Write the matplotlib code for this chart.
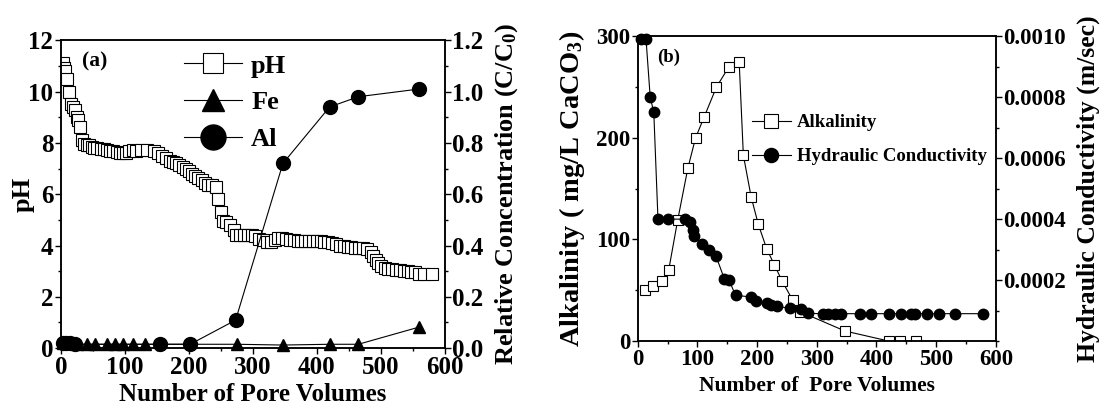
import matplotlib
matplotlib.use("Agg")
import matplotlib.pyplot as plt
from matplotlib.ticker import MultipleLocator

plt.rcParams['font.family'] = 'Liberation Serif'
plt.rcParams['font.weight'] = 'bold'
plt.rcParams['axes.labelweight'] = 'bold'
plt.rcParams['mathtext.fontset'] = 'custom'
plt.rcParams['mathtext.rm'] = 'Liberation Serif:bold'
plt.rcParams['mathtext.it'] = 'Liberation Serif:bold'
plt.rcParams['mathtext.bf'] = 'Liberation Serif:bold'

# ---- panel (a) data ----
ph_x = [3, 5, 7, 9, 13, 16, 19, 22, 25, 27, 30, 33, 36, 40, 44, 48, 52, 57, 62, 67,
        72, 77, 82, 87, 92, 97, 102, 107, 112, 117, 125, 135, 145, 152, 158, 164, 170,
        175, 180, 185, 190, 195, 200, 205, 210, 215, 220, 225, 230, 236, 242, 246, 250,
        254, 258, 264, 270, 274, 280, 286, 292, 298, 304, 310, 316, 322, 328, 334, 340,
        346, 352, 358, 364, 370, 376, 382, 388, 394, 400, 406, 412, 418, 424, 430, 436,
        442, 448, 454, 460, 466, 472, 478, 484, 488, 492, 496, 500, 506, 512, 518, 524,
        530, 536, 542, 548, 554, 560, 568, 580]
ph_y = [11.1, 10.9, 10.8, 10.5, 10.0, 9.5, 9.4, 9.3, 9.0, 8.9, 8.6, 8.1, 7.95, 7.9, 7.9,
        7.85, 7.8, 7.8, 7.78, 7.75, 7.72, 7.7, 7.68, 7.65, 7.62, 7.6, 7.62, 7.68, 7.72,
        7.7, 7.72, 7.72, 7.68, 7.6, 7.5, 7.4, 7.3, 7.25, 7.2, 7.12, 7.05, 7.0, 6.9, 6.8,
        6.72, 6.62, 6.55, 6.45, 6.35, 6.35, 6.3, 5.8, 5.3, 4.95, 4.9, 4.8, 4.6, 4.4, 4.4,
        4.4, 4.4, 4.4, 4.38, 4.25, 4.2, 4.15, 4.15, 4.2, 4.3, 4.3, 4.25, 4.22, 4.2, 4.18,
        4.18, 4.18, 4.18, 4.18, 4.18, 4.18, 4.15, 4.12, 4.1, 4.05, 4.0, 4.0, 3.95, 3.95,
        3.92, 3.9, 3.9, 3.85, 3.75, 3.6, 3.45, 3.3, 3.2, 3.12, 3.1, 3.08, 3.05, 3.05, 3.0,
        3.0, 2.98, 2.95, 2.9, 2.88, 2.88]

fe_x = [3, 8, 25, 41, 53, 72, 84, 97, 112, 131, 275, 347, 420, 465, 560]
fe_y = [0.02, 0.018, 0.015, 0.015, 0.015, 0.015, 0.015, 0.015, 0.015, 0.015, 0.015,
        0.012, 0.015, 0.015, 0.082]

al_x = [3, 8, 14, 22, 155, 202, 273, 347, 420, 465, 560]
al_y = [0.02, 0.02, 0.018, 0.015, 0.015, 0.015, 0.109, 0.72, 0.94, 0.98, 1.01]

# ---- panel (b) data ----
alk_x = [12, 26, 40, 52, 67, 84, 97, 111, 132, 153, 170, 177, 190, 202, 216, 229, 242,
         260, 272, 347, 421, 440, 466]
alk_y = [50, 54, 59, 70, 119, 170, 200, 220, 250, 270, 275, 183, 142, 115, 91, 75, 59,
         40, 29, 10, 0, 0, 0]

k_x = [6, 14, 21, 27, 34, 51, 79, 87, 92, 94, 108, 119, 131, 145, 153, 164, 190, 198,
       216, 224, 233, 255, 274, 286, 311, 318, 330, 341, 372, 390, 421, 441, 458, 464,
       484, 505, 531, 578]
k_y = [0.00099, 0.00099, 0.0008, 0.00075, 0.0004, 0.0004, 0.0004, 0.00039, 0.000365,
       0.000345, 0.00032, 0.0003, 0.00028, 0.000205, 0.0002, 0.00015, 0.000145, 0.000132,
       0.000124, 0.000118, 0.000115, 0.000107, 0.000104, 0.000091, 0.00009, 0.00009,
       0.00009, 0.00009, 0.00009, 0.00009, 0.00009, 0.00009, 0.00009, 0.00009, 0.00009,
       0.00009, 0.00009, 0.00009]


def style_axis(ax, size):
    ax.tick_params(which='both', direction='out', labelsize=size, width=1.0, pad=1.5)
    ax.tick_params(which='major', length=4)
    ax.tick_params(which='minor', length=2.5)
    for s in ax.spines.values():
        s.set_linewidth(1.1)


fig = plt.figure(figsize=(11.09, 4.11), dpi=100)

# panel (a)
ax1 = fig.add_axes([0.055, 0.153, 0.346, 0.749])
ax1.plot(ph_x, ph_y, color='black', lw=0.8, marker='s', ms=8, mfc='white',
         mec='black', mew=0.8, label='pH')
ax1.set_xlim(0, 600)
ax1.set_ylim(0, 12)
ax1.xaxis.set_major_locator(MultipleLocator(100))
ax1.xaxis.set_minor_locator(MultipleLocator(50))
ax1.yaxis.set_major_locator(MultipleLocator(2))
ax1.yaxis.set_minor_locator(MultipleLocator(1))
ax1.set_xlabel('Number of Pore Volumes', fontsize=18)
ax1.set_ylabel('pH', fontsize=19)
ax1.xaxis.set_label_coords(0.5, -0.112)
ax1.yaxis.set_label_coords(-0.068, 0.5)
ax1.text(0.055, 0.93, '(a)', transform=ax1.transAxes, fontsize=15.5, va='center')
style_axis(ax1, 18)

ax1r = ax1.twinx()
ax1r.plot(fe_x, fe_y, color='black', lw=0.8, marker='^', ms=9, mfc='black',
          mec='black', label='Fe', clip_on=False)
ax1r.plot(al_x, al_y, color='black', lw=0.8, marker='o', ms=10, mfc='black',
          mec='black', label='Al', clip_on=False)
ax1r.set_ylim(0, 1.2)
ax1r.yaxis.set_major_locator(MultipleLocator(0.2))
ax1r.yaxis.set_minor_locator(MultipleLocator(0.1))
ax1r.yaxis.set_major_formatter(plt.FormatStrFormatter('%.1f'))
ax1r.set_ylabel('Relative Concentration (C/C$_0$)', fontsize=19)
ax1r.yaxis.set_label_coords(1.125, 0.5)
style_axis(ax1r, 18)

h1, l1 = ax1.get_legend_handles_labels()
h2, l2 = ax1r.get_legend_handles_labels()
ax1r.legend(h1 + h2, l1 + l2, loc='upper left', bbox_to_anchor=(0.32, 0.955),
            frameon=False, fontsize=19, markerscale=1.8, handlelength=2.2,
            handletextpad=0.35, labelspacing=0.5, borderpad=0, borderaxespad=0)

# panel (b)
ax2 = fig.add_axes([0.575, 0.170, 0.323, 0.742])
ax2.plot(alk_x, alk_y, color='black', lw=0.8, marker='s', ms=7, mfc='white',
         mec='black', mew=0.8, label='Alkalinity')
ax2.set_xlim(0, 600)
ax2.set_ylim(0, 300)
ax2.xaxis.set_major_locator(MultipleLocator(100))
ax2.xaxis.set_minor_locator(MultipleLocator(50))
ax2.yaxis.set_major_locator(MultipleLocator(100))
ax2.yaxis.set_minor_locator(MultipleLocator(50))
ax2.set_xlabel('Number of  Pore Volumes', fontsize=15.5)
ax2.set_ylabel('Alkalinity ( mg/L CaCO$_3$)', fontsize=20.5)
ax2.xaxis.set_label_coords(0.5, -0.115)
ax2.yaxis.set_label_coords(-0.142, 0.5)
ax2.text(0.055, 0.93, '(b)', transform=ax2.transAxes, fontsize=13.5, va='center')
style_axis(ax2, 16.5)

ax2r = ax2.twinx()
ax2r.plot(k_x, k_y, color='black', lw=0.8, marker='o', ms=7.5, mfc='black',
          mec='black', label='Hydraulic Conductivity', clip_on=False)
ax2r.set_ylim(0, 0.001)
ax2r.set_yticks([0.0002, 0.0004, 0.0006, 0.0008, 0.0010])
ax2r.yaxis.set_minor_locator(MultipleLocator(0.0001))
ax2r.yaxis.set_major_formatter(plt.FormatStrFormatter('%.4f'))
ax2r.set_ylabel('Hydraulic Conductivity (m/sec)', fontsize=18.5)
ax2r.yaxis.set_label_coords(1.226, 0.5)
style_axis(ax2r, 16.5)

h1, l1 = ax2.get_legend_handles_labels()
h2, l2 = ax2r.get_legend_handles_labels()
ax2r.legend(h1 + h2, l1 + l2, loc='upper left', bbox_to_anchor=(0.318, 0.744),
            frameon=False, fontsize=13.5, markerscale=1.35, handlelength=2.1,
            handletextpad=0.3, labelspacing=0.9, borderpad=0, borderaxespad=0)

fig.savefig('out.png', dpi=100)
